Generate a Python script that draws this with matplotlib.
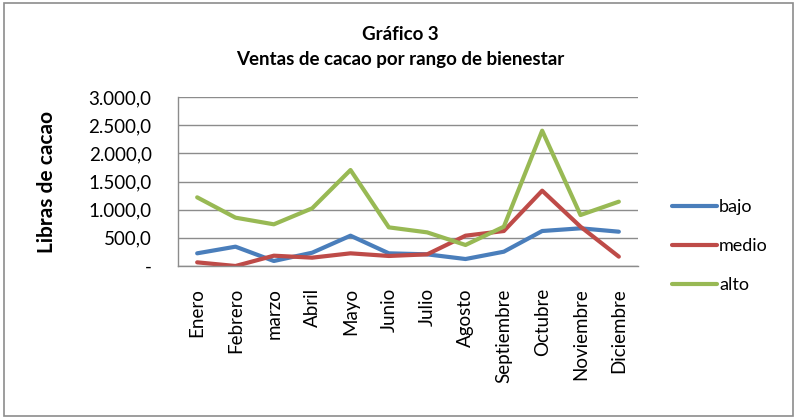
import matplotlib
matplotlib.use("Agg")
import matplotlib.pyplot as plt
from matplotlib.patches import Rectangle

plt.rcParams['font.family'] = ['Lato', 'DejaVu Sans']

meses = ["Enero", "Febrero", "marzo", "Abril", "Mayo", "Junio", "Julio",
         "Agosto", "Septiembre", "Octubre", "Noviembre", "Diciembre"]
bajo = [225, 343, 89, 236, 538, 225, 207, 124, 254, 621, 669, 609]
medio = [65, 0, 183, 148, 225, 178, 207, 538, 621, 1337, 698, 166]
alto = [1219, 858, 740, 1024, 1704, 686, 597, 373, 698, 2402, 905, 1142]
y_ticks = [0, 500, 1000, 1500, 2000, 2500, 3000]
y_labels = ["-", "500,0", "1.000,0", "1.500,0", "2.000,0", "2.500,0", "3.000,0"]

W, H = 796, 419
fig = plt.figure(figsize=(W / 100, H / 100), dpi=100)
fig.patches.append(Rectangle((4 / W, 3 / H), 789 / W, 413 / H, transform=fig.transFigure,
                             fill=False, edgecolor="#8c8c8c", linewidth=1.2))

ax = fig.add_axes([178 / W, 1 - 266 / H, (638 - 178) / W, (266 - 97) / H])
x = list(range(len(meses)))
ax.plot(x, bajo, color="#4A7EBB", lw=3, label="bajo", solid_capstyle="round")
ax.plot(x, medio, color="#BE4B48", lw=3, label="medio", solid_capstyle="round")
ax.plot(x, alto, color="#98B954", lw=3, label="alto", solid_capstyle="round")

ax.set_xlim(-0.5, len(meses) - 0.5)
ax.set_ylim(0, 3000)
ax.set_yticks(y_ticks)
ax.set_yticklabels(y_labels, fontsize=13.5)
ax.set_xticks(x)
ax.set_xticklabels(meses, rotation=90, fontsize=13.5)
ax.tick_params(axis="both", length=0)
ax.tick_params(axis="y", pad=19)
ax.tick_params(axis="x", pad=16)
ax.yaxis.grid(True, color="#8c8c8c", lw=1)
ax.set_axisbelow(True)
for s in ["top", "right"]:
    ax.spines[s].set_visible(False)
for s in ["left", "bottom"]:
    ax.spines[s].set_color("#8c8c8c")
    ax.spines[s].set_linewidth(1)

fig.text(47 / W, 1 - 182 / H, "Libras de cacao", rotation=90, ha="center", va="center",
         fontsize=15, fontweight="bold")
fig.text(400 / W, 1 - 34 / H, "Gráfico 3", ha="center", va="center", fontsize=13.5, fontweight="bold")
fig.text(400 / W, 1 - 59 / H, "Ventas de cacao por rango de bienestar", ha="center", va="center",
         fontsize=13.5, fontweight="bold")

leg = fig.legend(loc="center left", bbox_to_anchor=(656 / W, 1 - 246 / H), frameon=False,
                 fontsize=13, handlelength=2.5, handletextpad=0.1, labelspacing=1.28)

fig.savefig("out.png", dpi=100)
